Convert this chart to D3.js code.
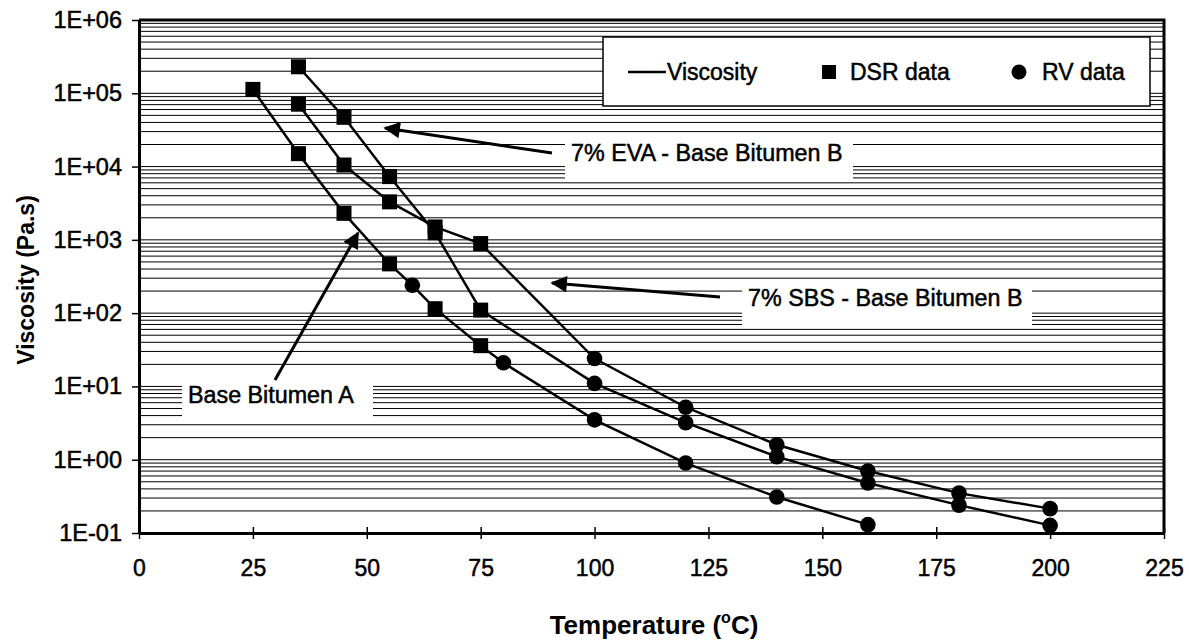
<!DOCTYPE html>
<html lang="en">
<head>
    <meta charset="UTF-8">
    <title>Viscosity vs temperature</title>
    <script src="https://cdn.jsdelivr.net/npm/d3@7"></script>
    <style>
        body { margin: 0; background: #fff; }
        text { font-family: "Liberation Sans", Arial, sans-serif; fill: #000; }
        .ink { stroke: #000; stroke-width: 0.5px; }
    </style>
</head>
<body>
<script>
    // values (Pa.s against deg C)
    const baseATemps = [25, 35, 45, 55, 60, 65, 75, 80, 100, 120, 140, 160]
    const baseAVisc = [1.13e5, 1.5e4, 2.3e3, 470, 240, 115, 36, 21, 3.5, 0.9, 0.31, 0.13]
    const baseASource = ['DSR', 'DSR', 'DSR', 'DSR', 'RV', 'DSR', 'DSR', 'RV', 'RV', 'RV', 'RV', 'RV']

    const sbsTemps = [35, 45, 55, 65, 75, 100, 120, 140, 160, 180, 200]
    const sbsVisc = [7.1e4, 1.05e4, 3.3e3, 1.5e3, 890, 24, 5.2, 1.6, 0.70, 0.35, 0.215]
    const sbsSource = ['DSR', 'DSR', 'DSR', 'DSR', 'DSR', 'RV', 'RV', 'RV', 'RV', 'RV', 'RV']

    const evaTemps = [35, 45, 55, 65, 75, 100, 120, 140, 160, 180, 200]
    const evaVisc = [2.3e5, 4.7e4, 7.3e3, 1.25e3, 110, 11, 3.2, 1.1, 0.48, 0.24, 0.127]
    const evaSource = ['DSR', 'DSR', 'DSR', 'DSR', 'DSR', 'RV', 'RV', 'RV', 'RV', 'RV', 'RV']

    const xTicks = [0, 25, 50, 75, 100, 125, 150, 175, 200, 225]
    const yTicks = [1e-1, 1e0, 1e1, 1e2, 1e3, 1e4, 1e5, 1e6]
    const legendLabels = ['Viscosity', 'DSR data', 'RV data']

    const series = [
        {name: 'Base Bitumen A', t: baseATemps, v: baseAVisc, s: baseASource},
        {name: '7% SBS - Base Bitumen B', t: sbsTemps, v: sbsVisc, s: sbsSource},
        {name: '7% EVA - Base Bitumen B', t: evaTemps, v: evaVisc, s: evaSource},
    ]

    const [width, height] = [1189, 641]
    const plot = {left: 139, right: 1164, top: 20, bottom: 533}

    const x = d3.scaleLinear().domain([0, 225]).range([plot.left, plot.right])
    const y = d3.scaleLog().domain([1e-1, 1e6]).range([plot.bottom, plot.top])

    const svg = d3.select('body').append('svg')
        .attr('width', width)
        .attr('height', height)

    svg.append('defs').append('marker')
        .attr('id', 'head')
        .attr('viewBox', '0 0 10 10')
        .attr('refX', 9).attr('refY', 5)
        .attr('markerWidth', 6.5).attr('markerHeight', 5.5)
        .attr('markerUnits', 'strokeWidth')
        .attr('orient', 'auto')
        .append('path').attr('d', 'M0,0 L10,5 L0,10 Z').attr('fill', '#000')

    // horizontal grid, one line per log minor tick
    svg.append('g').selectAll('line')
        .data(y.ticks())
        .enter().append('line')
        .attr('x1', plot.left).attr('x2', plot.right)
        .attr('y1', d => y(d)).attr('y2', d => y(d))
        .attr('stroke', '#000').attr('stroke-width', 1)

    // top and right frame
    svg.append('path')
        .attr('d', `M${plot.left},${plot.top}H${plot.right}V${plot.bottom}`)
        .attr('fill', 'none').attr('stroke', '#000').attr('stroke-width', 3)

    const fmt = d => {
        const e = Math.round(Math.log10(d))
        return '1E' + (e < 0 ? '-' : '+') + String(Math.abs(e)).padStart(2, '0')
    }

    const xAxis = svg.append('g')
        .attr('transform', `translate(0,${plot.bottom})`)
        .call(d3.axisBottom(x).tickValues(xTicks).tickSize(6).tickPadding(21).tickSizeOuter(0))
    xAxis.selectAll('.tick line').attr('y1', -6).attr('y2', 6).attr('stroke-width', 1.5)
    xAxis.select('.domain').attr('stroke-width', 3)
    xAxis.selectAll('text').attr('font-size', 23).attr('class', 'ink')

    const yAxis = svg.append('g')
        .attr('transform', `translate(${plot.left},0)`)
        .call(d3.axisLeft(y).tickValues(yTicks).tickFormat(fmt).tickSize(7).tickPadding(10).tickSizeOuter(0))
    yAxis.selectAll('.tick line').attr('stroke-width', 1.5)
    yAxis.select('.domain').attr('stroke-width', 3)
    yAxis.selectAll('text').attr('font-size', 23.5).attr('class', 'ink')

    // annotation labels with white boxes
    const notes = [
        {text: '7% EVA - Base Bitumen B', box: [565, 136, 288, 43], tx: 571, ty: 161, from: [552, 153], to: [385, 128]},
        {text: '7% SBS - Base Bitumen B', box: [742, 281, 290, 44], tx: 748, ty: 306, from: [720, 297], to: [552, 283]},
        {text: 'Base Bitumen A', box: [182, 375, 191, 44], tx: 188, ty: 403, from: [275, 380], to: [358, 233]},
    ]
    const noteG = svg.append('g')
    noteG.selectAll('rect').data(notes).enter().append('rect')
        .attr('x', d => d.box[0]).attr('y', d => d.box[1])
        .attr('width', d => d.box[2]).attr('height', d => d.box[3])
        .attr('fill', '#fff')
    noteG.selectAll('text').data(notes).enter().append('text')
        .attr('x', d => d.tx).attr('y', d => d.ty)
        .attr('font-size', 23.3)
        .attr('class', 'ink')
        .text(d => d.text)

    // series lines and markers
    const line = d3.line().x(d => x(d.t)).y(d => y(d.v))
    series.forEach(s => {
        const pts = s.t.map((t, i) => ({t, v: s.v[i], src: s.s[i]}))
        const g = svg.append('g')
        g.append('path')
            .attr('d', line(pts))
            .attr('fill', 'none').attr('stroke', '#000').attr('stroke-width', 2.5)
        g.selectAll('rect').data(pts.filter(p => p.src === 'DSR')).enter().append('rect')
            .attr('x', d => x(d.t) - 7.5).attr('y', d => y(d.v) - 7.5)
            .attr('width', 15).attr('height', 15)
            .attr('fill', '#000')
        g.selectAll('circle').data(pts.filter(p => p.src === 'RV')).enter().append('circle')
            .attr('cx', d => x(d.t)).attr('cy', d => y(d.v))
            .attr('r', 7.8)
            .attr('fill', '#000')
    })

    // arrows
    noteG.raise()
    svg.append('g').selectAll('line').data(notes).enter().append('line')
        .attr('x1', d => d.from[0]).attr('y1', d => d.from[1])
        .attr('x2', d => d.to[0]).attr('y2', d => d.to[1])
        .attr('stroke', '#000').attr('stroke-width', 3)
        .attr('marker-end', 'url(#head)')

    // legend
    const lg = svg.append('g')
    lg.append('rect')
        .attr('x', 603).attr('y', 37).attr('width', 547).attr('height', 69)
        .attr('fill', '#fff').attr('stroke', '#000').attr('stroke-width', 1.5)
    lg.append('line')
        .attr('x1', 628).attr('x2', 666).attr('y1', 72).attr('y2', 72)
        .attr('stroke', '#000').attr('stroke-width', 2.5)
    lg.append('rect')
        .attr('x', 822).attr('y', 65).attr('width', 14).attr('height', 14)
        .attr('fill', '#000')
    lg.append('circle')
        .attr('cx', 1019).attr('cy', 72).attr('r', 7.5)
        .attr('fill', '#000')
    lg.selectAll('text').data(legendLabels).enter().append('text')
        .attr('x', (d, i) => [667, 850, 1042][i])
        .attr('y', 80)
        .attr('font-size', 23)
        .attr('class', 'ink')
        .text(d => d)

    // axis titles
    const xt = svg.append('text')
        .attr('x', 654).attr('y', 634)
        .attr('text-anchor', 'middle')
        .attr('font-size', 26).attr('font-weight', 'bold')
    xt.append('tspan').text('Temperature (')
    xt.append('tspan').attr('font-size', 16).attr('dy', -11).text('o')
    xt.append('tspan').attr('dy', 11).text('C)')

    svg.append('text')
        .attr('transform', 'translate(34,280) rotate(-90)')
        .attr('text-anchor', 'middle')
        .attr('font-size', 23).attr('font-weight', 'bold')
        .text('Viscosity (Pa.s)')
</script>
</body>
</html>
